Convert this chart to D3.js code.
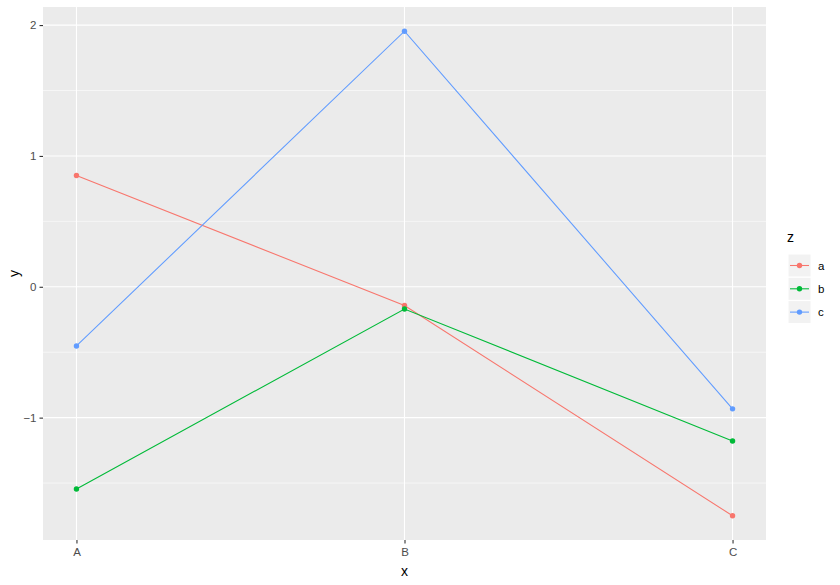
<!DOCTYPE html>
<html><head><meta charset="utf-8">
<script src="https://cdn.jsdelivr.net/npm/d3@7"></script>
<style>body{margin:0;background:#fff}svg{display:block;font-family:"Liberation Sans",Arial,sans-serif}</style>
</head><body><svg id="c" width="840" height="585"></svg>
<script>
const categories = ["A","B","C"];
const seriesNames = ["a","b","c"];
const valuesA = [0.85, -0.143, -1.75];
const valuesB = [-1.545, -0.170, -1.178];
const valuesC = [-0.452, 1.953, -0.933];
const yTicks = [-1, 0, 1, 2];
const yMinor = [-1.5, -0.5, 0.5, 1.5];
const colors = ["#F8766D","#00BA38","#619CFF"];

const series = [valuesA, valuesB, valuesC];
const svg = d3.select("#c");
const P = {l:43, t:7, r:766, b:540};
const x = d3.scaleLinear().domain([0.898, 3.102]).range([P.l, P.r]);
const allV = series.flat();
const lo = d3.min(allV), hi = d3.max(allV), pad = (hi-lo)*0.05;
const y = d3.scaleLinear().domain([lo-pad, hi+pad]).range([P.b, P.t]);

svg.append("rect").attr("x",P.l).attr("y",P.t).attr("width",P.r-P.l).attr("height",P.b-P.t).attr("fill","#EBEBEB");
const g = svg.append("g");
yMinor.forEach(v=>g.append("line").attr("x1",P.l).attr("x2",P.r).attr("y1",y(v)).attr("y2",y(v)).attr("stroke","#fff").attr("stroke-width",0.55));
yTicks.forEach(v=>g.append("line").attr("x1",P.l).attr("x2",P.r).attr("y1",y(v)).attr("y2",y(v)).attr("stroke","#fff").attr("stroke-width",1.1));
categories.forEach((c,i)=>g.append("line").attr("y1",P.t).attr("y2",P.b).attr("x1",x(i+1)).attr("x2",x(i+1)).attr("stroke","#fff").attr("stroke-width",1.1));

// axes
const yAxis = d3.axisLeft(y).tickValues(yTicks).tickSize(3.5).tickPadding(3).tickFormat(d3.format("d"));
const ya = svg.append("g").attr("transform",`translate(${P.l},0)`).call(yAxis);
const xAxis = d3.axisBottom(x).tickValues([1,2,3]).tickSize(3.5).tickPadding(4).tickFormat(d=>categories[d-1]);
const xa = svg.append("g").attr("transform",`translate(0,${P.b})`).call(xAxis);
[ya,xa].forEach(a=>{a.select(".domain").remove();a.selectAll(".tick line").attr("stroke","#333").attr("stroke-width",1.1);a.selectAll("text").attr("fill","#4D4D4D").style("font-size","11.5px").style("font-family","Liberation Sans, Arial, sans-serif");});

svg.append("text").attr("x",(P.l+P.r)/2).attr("y",576).attr("text-anchor","middle").style("font-size","14px").attr("fill","#000").text("x");
svg.append("text").attr("transform",`translate(19,${(P.t+P.b)/2}) rotate(-90)`).attr("text-anchor","middle").style("font-size","14px").attr("fill","#000").text("y");

const line = d3.line().x((d,i)=>x(i+1)).y(d=>y(d));
series.forEach((s,k)=>{
  svg.append("path").attr("d",line(s)).attr("fill","none").attr("stroke",colors[k]).attr("stroke-width",1.07);
});
series.forEach((s,k)=>{
  svg.selectAll(null).data(s).enter().append("circle").attr("cx",(d,i)=>x(i+1)).attr("cy",d=>y(d)).attr("r",2.7).attr("fill",colors[k]);
});

// legend
const L = svg.append("g");
L.append("text").attr("x",787).attr("y",242).style("font-size","14px").attr("fill","#000").text("z");
seriesNames.forEach((n,k)=>{
  const yy = 254 + k*23.3;
  L.append("rect").attr("x",788).attr("y",yy).attr("width",23).attr("height",23).attr("fill","#F2F2F2").attr("stroke","#fff").attr("stroke-width",1);
  L.append("line").attr("x1",790).attr("x2",809).attr("y1",yy+11.5).attr("y2",yy+11.5).attr("stroke",colors[k]).attr("stroke-width",1.07);
  L.append("circle").attr("cx",799.5).attr("cy",yy+11.5).attr("r",2.7).attr("fill",colors[k]);
  L.append("text").attr("x",818).attr("y",yy+15.5).style("font-size","11.5px").attr("fill","#000").text(n);
});
</script></body></html>
